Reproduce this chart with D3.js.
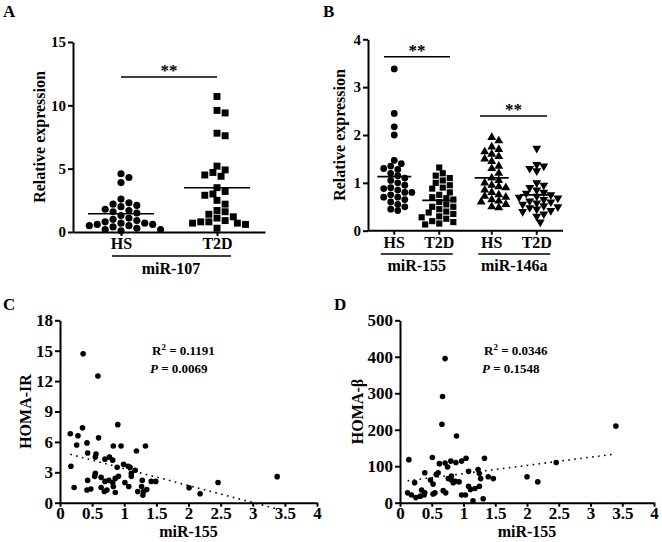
<!DOCTYPE html>
<html>
<head>
<meta charset="utf-8">
<script src="https://cdn.jsdelivr.net/npm/d3@7"></script>
<style>
  body { margin: 0; background: #fff; }
  svg text { font-family: "Liberation Serif", "Times New Roman", serif; font-weight: bold; fill: #000; }
  .axis path, .axis line { stroke: #000; stroke-width: 2; }
</style>
</head>
<body>
<svg id="chart" width="662" height="542"></svg>
<script>
// ---- data ----
const groups = ["HS", "T2D"];

// A: miR-107 relative expression
const miR107HS = [4.6, 4.3, 3.9, 2.6, 2.3, 2.2, 2.1, 2.0, 1.8, 1.7, 1.6, 1.5, 1.3, 1.1,
  1.0, 0.9, 0.8, 0.7, 0.7, 0.6, 0.6, 0.5, 0.5, 0.4, 0.3, 0.2, 0.2, 0.1];
const miR107T2D = [10.7, 9.6, 9.4, 7.8, 7.6, 5.2, 4.9, 4.7, 4.5, 4.4, 3.5, 3.2, 2.9, 3.0,
  2.5, 2.2, 1.7, 1.6, 1.4, 1.2, 1.1, 0.9, 0.8, 0.7, 0.8, 0.7, 0.6, 0.3];
const ticksA = [0, 5, 10, 15];

// B: miR-155 and miR-146a relative expression
const genesB = ["miR-155", "miR-146a"];
const miR155HS = [3.38, 2.45, 2.17, 2.0, 1.47, 1.4, 1.35, 1.3, 1.28, 1.2, 1.15, 1.1, 1.05, 1.0,
  0.95, 0.9, 0.88, 0.85, 0.8, 0.8, 0.75, 0.7, 0.7, 0.65, 0.6, 0.55, 0.5, 0.45, 0.42];
const miR155T2D = [1.32, 1.2, 1.15, 1.1, 1.05, 1.0, 0.95, 0.9, 0.88, 0.8, 0.75, 0.7, 0.68, 0.65,
  0.6, 0.55, 0.5, 0.5, 0.45, 0.4, 0.38, 0.35, 0.3, 0.28, 0.25, 0.2, 0.18, 0.15, 0.13];
const miR146aHS = [1.95, 1.88, 1.75, 1.7, 1.65, 1.6, 1.55, 1.5, 1.45, 1.35, 1.3, 1.2, 1.1, 1.05,
  1.0, 0.95, 0.92, 0.9, 0.85, 0.8, 0.75, 0.72, 0.7, 0.65, 0.62, 0.6, 0.55, 0.5, 0.48];
const miR146aT2D = [1.72, 1.38, 1.35, 1.3, 1.25, 1.0, 0.95, 0.9, 0.85, 0.8, 0.78, 0.75, 0.72, 0.7,
  0.68, 0.65, 0.62, 0.6, 0.58, 0.55, 0.52, 0.5, 0.48, 0.45, 0.42, 0.4, 0.35, 0.3, 0.18];
const ticksB = [0, 1, 2, 3, 4];

// C: miR-155 vs HOMA-IR
const miR155C = [0.36, 0.59, 0.16, 0.35, 0.28, 0.26, 0.42, 0.60, 0.90, 0.83, 0.95, 1.19, 1.33,
  0.43, 0.56, 0.55, 0.77, 0.70, 0.82, 0.99, 1.06, 1.09, 0.89, 0.17, 1.17, 0.55, 0.54, 0.64,
  1.11, 1.11, 0.91, 0.86, 0.43, 0.70, 0.76, 0.82, 0.83, 1.01, 1.07, 1.28, 1.42, 1.49, 0.22,
  0.42, 0.48, 0.64, 0.69, 0.73, 0.86, 1.21, 1.27, 1.30, 1.35, 1.29, 2.01, 2.18, 2.46, 3.38];
const homaIR = [14.7, 12.5, 6.8, 7.4, 6.6, 5.7, 5.9, 6.4, 7.7, 5.6, 5.6, 5.1, 5.6,
  4.9, 4.8, 4.5, 4.5, 4.3, 4.2, 3.8, 3.6, 3.5, 3.5, 3.6, 3.2, 2.9, 2.6, 2.5,
  2.9, 2.6, 2.6, 2.4, 2.2, 2.1, 2.2, 2.0, 1.6, 2.0, 1.6, 2.2, 2.1, 2.1, 1.5,
  1.25, 1.35, 1.5, 1.1, 1.25, 1.0, 1.1, 1.6, 1.1, 1.3, 0.75, 1.48, 0.89, 2.0, 2.57];
const fitC = [5.04, -1.674]; // intercept, slope
const fitRangeC = [0.16, 3.38];
const statsC = ["0.1191", "0.0069"];
const ticksCy = [0, 3, 6, 9, 12, 15, 18];

// D: miR-155 vs HOMA-beta
const miR155D = [0.71, 0.67, 0.66, 0.89, 0.14, 0.51, 0.62, 0.71, 0.75, 0.80, 0.88, 0.97, 1.04,
  1.33, 0.39, 0.57, 0.60, 0.48, 0.52, 0.23, 0.76, 0.81, 0.84, 0.87, 0.93, 0.81, 1.08, 1.23,
  1.25, 1.27, 1.39, 1.47, 1.08, 1.11, 1.18, 1.25, 0.12, 0.18, 0.25, 0.32, 0.34, 0.39, 0.38,
  0.52, 0.55, 0.68, 0.72, 0.97, 1.03, 1.15, 1.31, 2.00, 2.17, 2.46, 3.40];
const homaBeta = [395, 291, 215, 183, 118, 124, 107, 109, 98, 114, 110, 114, 122,
  122, 82, 77, 82, 62, 51, 55, 66, 62, 55, 59, 57, 73, 86, 91,
  80, 66, 71, 66, 45, 36, 39, 45, 27, 21, 14, 18, 35, 27, 21,
  24, 27, 33, 27, 21, 21, 5, 11, 71, 57, 110, 210];
const fitD = [57.3, 22.5];
const fitRangeD = [0.12, 3.37];
const statsD = ["0.0346", "0.1548"];
const ticksDy = [0, 100, 200, 300, 400, 500];
const ticksX = [0, 0.5, 1, 1.5, 2, 2.5, 3, 3.5, 4];

// ---- drawing ----
const svg = d3.select("#chart");
svg.append("rect").attr("width", 662).attr("height", 542).attr("fill", "#fff");

// spread points of one column sideways so they do not overlap
function swarm(values, y, cx, size) {
  const placed = [];
  const step = size * 0.55;
  values
    .map((v) => ({ v, py: y(v) }))
    .sort((a, b) => a.py - b.py)
    .forEach((d) => {
      for (let k = 0; k < 60; k++) {
        const off = k === 0 ? 0 : (k % 2 ? 1 : -1) * Math.ceil(k / 2) * step;
        const ok = placed.every((p) => Math.hypot(p.px - (cx + off), p.py - d.py) >= size * 0.95);
        if (ok) {
          d.px = cx + off;
          break;
        }
      }
      placed.push(d);
    });
  return placed;
}

function styleAxis(g, size) {
  g.attr("class", "axis");
  g.selectAll("text").attr("font-size", size);
}

function panelLabel(txt, x, y) {
  svg.append("text").attr("x", x).attr("y", y).attr("font-size", 17).text(txt);
}

function yTitle(txt, x, y0, y1, size) {
  svg.append("text")
    .attr("transform", `translate(${x},${(y0 + y1) / 2}) rotate(-90)`)
    .attr("text-anchor", "middle")
    .attr("dominant-baseline", "central")
    .attr("font-size", size)
    .text(txt);
}

function sigBar(x0, x1, y) {
  svg.append("line").attr("x1", x0).attr("x2", x1).attr("y1", y).attr("y2", y)
    .attr("stroke", "#000").attr("stroke-width", 1.6);
  svg.append("text").attr("x", (x0 + x1) / 2).attr("y", y - 1)
    .attr("text-anchor", "middle").attr("font-size", 17).text("**");
}

function column(g, values, y, cx, shape, area, size, half) {
  const pts = swarm(values, y, cx, size);
  g.selectAll(null).data(pts).join("path")
    .attr("transform", (d) => `translate(${d.px},${d.py})${shape === "down" ? " rotate(180)" : ""}`)
    .attr("d", d3.symbol().type(shape === "down" ? d3.symbolTriangle : shape).size(area))
    .attr("fill", "#000");
  const m = y(d3.mean(values));
  g.append("line").attr("x1", cx - half).attr("x2", cx + half).attr("y1", m).attr("y2", m)
    .attr("stroke", "#000").attr("stroke-width", 1.6);
}

// Panel A
{
  const y = d3.scaleLinear().domain([0, 15]).range([232, 42]);
  const x = d3.scalePoint().domain(groups).range([73, 265]).padding(0.5);
  const g = svg.append("g");
  column(g, miR107HS, y, x("HS"), d3.symbolCircle, 40, 7.2, 33);
  column(g, miR107T2D, y, x("T2D"), d3.symbolSquare, 48, 7.4, 33);
  svg.append("g").attr("transform", "translate(73,0)")
    .call(d3.axisLeft(y).tickValues(ticksA).tickSize(5).tickSizeOuter(0).tickPadding(2))
    .call(styleAxis, 15);
  svg.append("g").attr("transform", "translate(0,232)")
    .call(d3.axisBottom(x).tickSize(4).tickSizeOuter(0).tickPadding(2))
    .call(styleAxis, 16);
  svg.append("line").attr("x1", 112).attr("x2", 231).attr("y1", 256).attr("y2", 256)
    .attr("stroke", "#000").attr("stroke-width", 1.6);
  svg.append("text").attr("x", 171).attr("y", 274).attr("text-anchor", "middle")
    .attr("font-size", 16).text("miR-107");
  sigBar(x("HS"), x("T2D"), 77);
  yTitle("Relative expression", 39, 42, 232, 16);
  panelLabel("A", 3, 17);
}

// Panel B
{
  const y = d3.scaleLinear().domain([0, 4]).range([230.7, 39.3]);
  const outer = d3.scalePoint().domain(genesB).range([368, 563]).padding(0.5);
  const inner = d3.scalePoint().domain(groups).range([-22.5, 22.5]);
  const g = svg.append("g");
  const cols = [
    [miR155HS, "miR-155", "HS", d3.symbolCircle, 36],
    [miR155T2D, "miR-155", "T2D", d3.symbolSquare, 38],
    [miR146aHS, "miR-146a", "HS", d3.symbolTriangle, 34],
    [miR146aT2D, "miR-146a", "T2D", "down", 34],
  ];
  cols.forEach(([vals, gene, grp, shape, area]) =>
    column(g, vals, y, outer(gene) + inner(grp), shape, area, 6.4, 17));
  svg.append("g").attr("transform", "translate(368,0)")
    .call(d3.axisLeft(y).tickValues(ticksB).tickFormat(d3.format("d"))
      .tickSize(5).tickSizeOuter(0).tickPadding(2))
    .call(styleAxis, 15);
  const ax = svg.append("g").attr("class", "axis");
  ax.append("line").attr("x1", 368).attr("x2", 563).attr("y1", 230.7).attr("y2", 230.7);
  cols.forEach(([, gene, grp]) => {
    const cx = outer(gene) + inner(grp);
    ax.append("line").attr("x1", cx).attr("x2", cx).attr("y1", 230.7).attr("y2", 234.7);
    ax.append("text").attr("x", cx).attr("y", 248).attr("text-anchor", "middle")
      .attr("font-size", 16).text(grp);
  });
  genesB.forEach((gene) => {
    const c = outer(gene);
    svg.append("line").attr("x1", c - 36).attr("x2", c + 36).attr("y1", 254).attr("y2", 254)
      .attr("stroke", "#000").attr("stroke-width", 1.6);
    svg.append("text").attr("x", c).attr("y", 271).attr("text-anchor", "middle")
      .attr("font-size", 16).text(gene);
  });
  sigBar(384, 450, 56.7);
  sigBar(480, 547, 116);
  yTitle("Relative expression", 339, 39.3, 230.7, 16);
  panelLabel("B", 323, 17);
}

// Panels C and D: scatter with dotted linear fit
function scatter(opts) {
  const { xs, ys, yMax, yTicks, fit, fitRange, stats, left, right, top, bottom, title, label, lx, ly, sx } = opts;
  const x = d3.scaleLinear().domain([0, 4]).range([left, right]);
  const y = d3.scaleLinear().domain([0, yMax]).range([bottom, top]);
  const g = svg.append("g");
  g.selectAll(null).data(xs).join("circle")
    .attr("cx", (d) => x(d)).attr("cy", (d, i) => y(ys[i])).attr("r", 2.8).attr("fill", "#000");
  const fx = d3.scaleLinear().domain([0, 1]).range(fitRange);
  const line = d3.line().x((t) => x(fx(t))).y((t) => y(fit[0] + fit[1] * fx(t)));
  g.append("path").attr("d", line([0, 1])).attr("fill", "none")
    .attr("stroke", "#000").attr("stroke-width", 1.6).attr("stroke-dasharray", "1.6,4.4");
  svg.append("g").attr("transform", `translate(${left},0)`)
    .call(d3.axisLeft(y).tickValues(yTicks).tickSize(5).tickSizeOuter(0).tickPadding(2))
    .call(styleAxis, 17);
  svg.append("g").attr("transform", `translate(0,${bottom})`)
    .call(d3.axisBottom(x).tickValues(ticksX).tickFormat((d) => String(d))
      .tickSize(4).tickSizeOuter(0).tickPadding(0))
    .call(styleAxis, 17);
  svg.append("text").attr("x", (left + right) / 2).attr("y", 537).attr("text-anchor", "middle")
    .attr("font-size", 16).text("miR-155");
  yTitle(title, lx, top, bottom, 16);
  panelLabel(label, ly, 310);
  const t1 = svg.append("text").attr("x", sx).attr("y", 355).attr("font-size", 13);
  t1.append("tspan").text("R");
  t1.append("tspan").attr("font-size", 9).attr("dy", -5).text("2");
  t1.append("tspan").attr("dy", 5).text(" = " + stats[0]);
  const t2 = svg.append("text").attr("x", sx - 2).attr("y", 373).attr("font-size", 13);
  t2.append("tspan").attr("font-style", "italic").text("P");
  t2.append("tspan").text(" = " + stats[1]);
}

scatter({
  xs: miR155C, ys: homaIR, yMax: 18, yTicks: ticksCy, fit: fitC, fitRange: fitRangeC, stats: statsC,
  left: 60, right: 317, top: 320.3, bottom: 502.7, title: "HOMA-IR", label: "C", lx: 25, ly: 3, sx: 152,
});
scatter({
  xs: miR155D, ys: homaBeta, yMax: 500, yTicks: ticksDy, fit: fitD, fitRange: fitRangeD, stats: statsD,
  left: 400, right: 654, top: 320.3, bottom: 502.7, title: "HOMA-β", label: "D", lx: 357, ly: 334, sx: 484,
});
</script>
</body>
</html>
